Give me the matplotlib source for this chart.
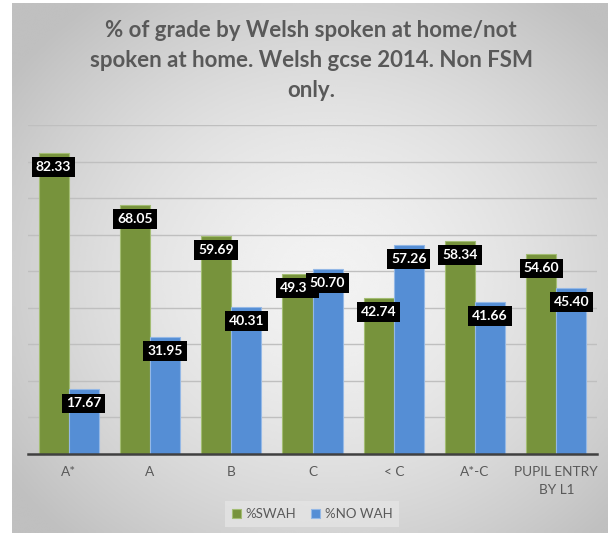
import numpy as np
import matplotlib.pyplot as plt

categories = ["A*", "A", "B", "C", "< C", "A*-C", "PUPIL ENTRY\nBY L1"]
swah = [82.33, 68.05, 59.69, 49.30, 42.74, 58.34, 54.60]
no_wah = [17.67, 31.95, 40.31, 50.70, 57.26, 41.66, 45.40]
series_names = ["%SWAH", "%NO WAH"]
title = ("% of grade by Welsh spoken at home/not\n"
         "spoken at home. Welsh gcse 2014. Non FSM\nonly.")

green = '#77933c'
blue = '#558ed5'
txt_gray = '#595959'

plt.rcParams['font.family'] = ['Lato', 'DejaVu Sans']

W, H = 608, 533
fig = plt.figure(figsize=(W / 100, H / 100), dpi=100)
fig.patch.set_facecolor('white')

# chart area background - soft radial gradient, light in the middle
bg = fig.add_axes([12 / W, 0, (W - 12) / W, (H - 3) / H])
yy, xx = np.mgrid[0:1:300j, 0:1:300j]
r = np.sqrt(((xx - 0.53) / 0.62) ** 2 + ((yy - 0.52) / 0.62) ** 2)
shade = np.clip(0.95 - 0.18 * r ** 1.6, 0.75, 1)
bg.imshow(shade, cmap='gray', vmin=0, vmax=1, aspect='auto',
          extent=[0, 1, 0, 1], interpolation='bicubic')
bg.axis('off')

ax = fig.add_axes([28 / W, 1 - 454 / H, (597 - 28) / W, (454 - 125) / H])
ax.patch.set_alpha(0)

x = np.arange(len(categories))
w = 0.37
b1 = ax.bar(x - w / 2, swah, w, color=green, edgecolor='#a3bd73', lw=0.8,
            label=series_names[0], zorder=2)
b2 = ax.bar(x + w / 2, no_wah, w, color=blue, edgecolor='#94b8e6', lw=0.8,
            label=series_names[1], zorder=2)

# data labels: black boxes just inside the top of each bar
for bars, vals in ((b1, swah), (b2, no_wah)):
    for rect, v in zip(bars, vals):
        ax.annotate(f"{v:.2f}", (rect.get_x() + rect.get_width() / 2, v),
                    xytext=(0, -14), textcoords='offset pixels',
                    ha='center', va='center', color='white',
                    fontsize=10, fontweight='bold', zorder=5,
                    bbox=dict(boxstyle='square,pad=0.28', fc='black', ec='none'))

ax.set_xlim(-0.5, len(categories) - 0.5)
ax.set_ylim(0, 90)
ax.set_yticks(np.arange(0, 91, 10))
ax.yaxis.grid(True, color='#bfbfbf', lw=1)
ax.set_axisbelow(True)
for s in ('top', 'right', 'left'):
    ax.spines[s].set_visible(False)
ax.spines['bottom'].set_color('#404040')
ax.spines['bottom'].set_linewidth(1.8)
ax.spines['bottom'].set_zorder(3)
ax.tick_params(axis='y', length=0, labelleft=False)
ax.tick_params(axis='x', length=0, pad=9, colors=txt_gray, labelsize=9.8)
ax.set_xticks(x)
ax.set_xticklabels(categories, linespacing=1.6)

fig.text(311 / W, 1 - 20 / H, title, ha='center', va='top', fontsize=16,
         fontweight='bold', color=txt_gray, linespacing=1.52)

leg = fig.legend(handles=[b1, b2], loc='center', bbox_to_anchor=(312 / W, 1 - 514 / H),
                 ncol=2, fontsize=9.5, handlelength=0.7, handleheight=0.7,
                 handletextpad=0.35, columnspacing=1.1, fancybox=False,
                 facecolor='#e6e6e6', edgecolor='none', framealpha=0.7,
                 labelcolor=txt_gray, borderpad=0.5)

fig.savefig('out.png', dpi=100)
